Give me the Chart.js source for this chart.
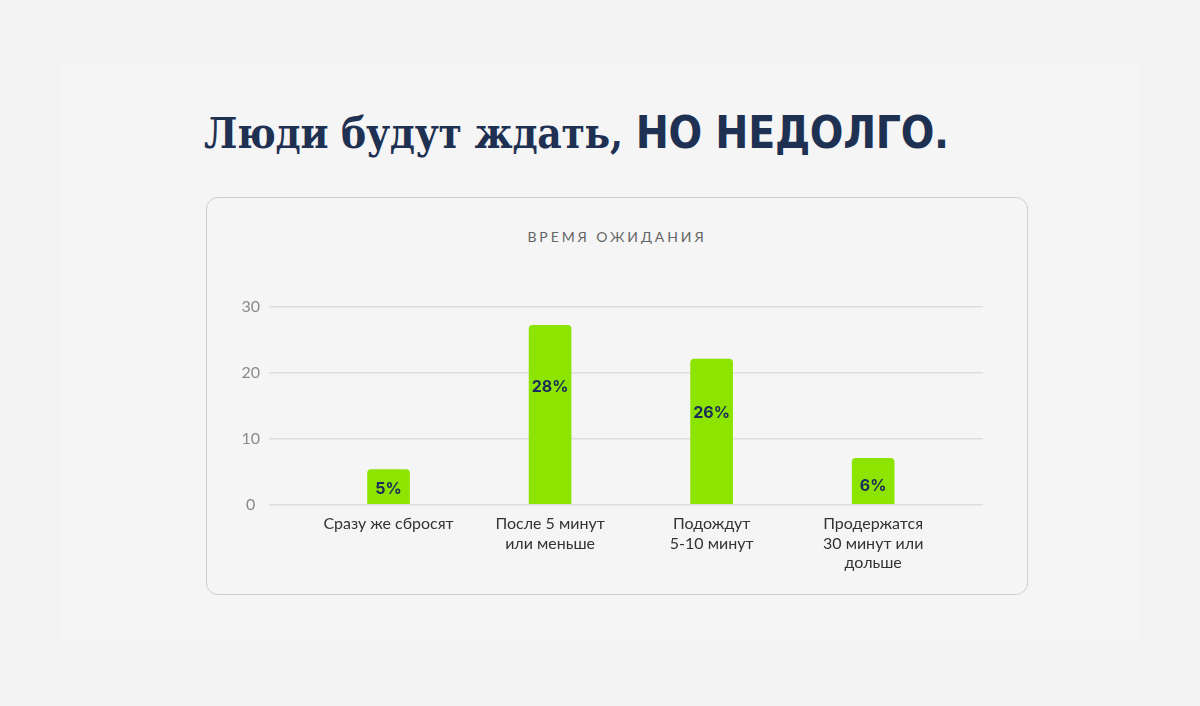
<!DOCTYPE html>
<html lang="ru">
<head>
<meta charset="utf-8">
<title>Время ожидания</title>
<script src="https://cdn.jsdelivr.net/npm/chart.js@4/dist/chart.umd.min.js"></script>
<style>
  html, body { margin: 0; padding: 0; }
  body { width: 1200px; height: 706px; background: #f3f3f3; position: relative; overflow: hidden; font-family: Lato, sans-serif; }
  .panel { position: absolute; left: 60px; top: 63px; width: 1080px; height: 577px; background: #f5f5f5; }
  h1 { position: absolute; left: 204px; top: 105px; margin: 0; font-family: "DejaVu Serif Condensed", "DejaVu Serif", serif; font-weight: bold; font-size: 42px; line-height: 56px; color: #1f3152; white-space: nowrap; letter-spacing: -0.3px; }
  h1 b { font-family: "DejaVu Sans Condensed", "DejaVu Sans", sans-serif; font-weight: bold; font-size: 44px; }
  .card { position: absolute; left: 206px; top: 197px; width: 820px; height: 396px; border: 1.5px solid #cfcfcf; border-radius: 12px; background: #f5f5f5; }
  .card-title { position: absolute; left: 0; right: 0; top: 30px; text-align: center; font-size: 14px; letter-spacing: 2.9px; color: #666; }
  .chart-box { position: absolute; left: 10px; top: 63px; width: 790px; height: 314px; }
</style>
</head>
<body>
<div class="panel"></div>
<h1>Люди будут ждать, <b>НО НЕДОЛГО.</b></h1>
<div class="card">
  <div class="card-title">ВРЕМЯ ОЖИДАНИЯ</div>
  <div class="chart-box"><canvas id="chart" width="790" height="314"></canvas></div>
</div>
<script>
// data
const categories = [
  ['Сразу же сбросят'],
  ['После 5 минут', 'или меньше'],
  ['Подождут', '5-10 минут'],
  ['Продержатся', '30 минут или', 'дольше']
];
const barValues = [5.3, 27.2, 22.1, 7.0];
const barLabels = ['5%', '28%', '26%', '6%'];
const labelLevels = [2.3, 17.8, 13.8, 2.8]; // where the % text sits, in axis units
const yTicks = [0, 10, 20, 30];

const GREEN = '#8de400';
const NAVY = '#1c2b5a';

Chart.defaults.font.family = 'Lato, sans-serif';

// % labels inside the bars
const barText = {
  id: 'barText',
  afterDatasetsDraw(chart) {
    const ctx = chart.ctx;
    const y = chart.scales.y;
    const meta = chart.getDatasetMeta(0);
    ctx.save();
    ctx.font = 'bold 16px Inter, Lato, sans-serif';
    ctx.fillStyle = NAVY;
    ctx.textAlign = 'center';
    ctx.textBaseline = 'middle';
    meta.data.forEach((bar, i) => {
      ctx.fillText(barLabels[i], bar.x, y.getPixelForValue(labelLevels[i]));
    });
    ctx.restore();
  }
};

new Chart(document.getElementById('chart'), {
  type: 'bar',
  data: {
    datasets: [{
      data: barValues.map((v, i) => ({ x: i, y: v })),
      backgroundColor: GREEN,
      borderRadius: 4,
      barThickness: 42
    }]
  },
  options: {
    responsive: false,
    animation: false,
    layout: { padding: { top: 46, right: 24, left: 0, bottom: 0 } },
    scales: {
      x: {
        type: 'linear',
        offset: false,
        min: -0.74,
        max: 3.68,
        afterBuildTicks: s => { s.ticks = categories.map((c, i) => ({ value: i })); },
        grid: { display: false },
        border: { display: false },
        ticks: {
          callback: v => categories[v] || '',
          color: '#333',
          font: { size: 16, lineHeight: 1.22 },
          padding: 2,
          maxRotation: 0,
          autoSkip: false
        }
      },
      y: {
        min: 0,
        max: 30,
        afterBuildTicks: s => { s.ticks = yTicks.map(v => ({ value: v })); },
        afterFit: s => { s.width = 52; },
        grid: { color: '#dedede', lineWidth: 1.5, drawTicks: false },
        border: { display: false },
        ticks: {
          color: '#8a8a8a',
          font: { size: 16 },
          padding: 9,
          crossAlign: 'center'
        }
      }
    },
    plugins: {
      legend: { display: false },
      tooltip: { enabled: false }
    }
  },
  plugins: [barText]
});
</script>
</body>
</html>
